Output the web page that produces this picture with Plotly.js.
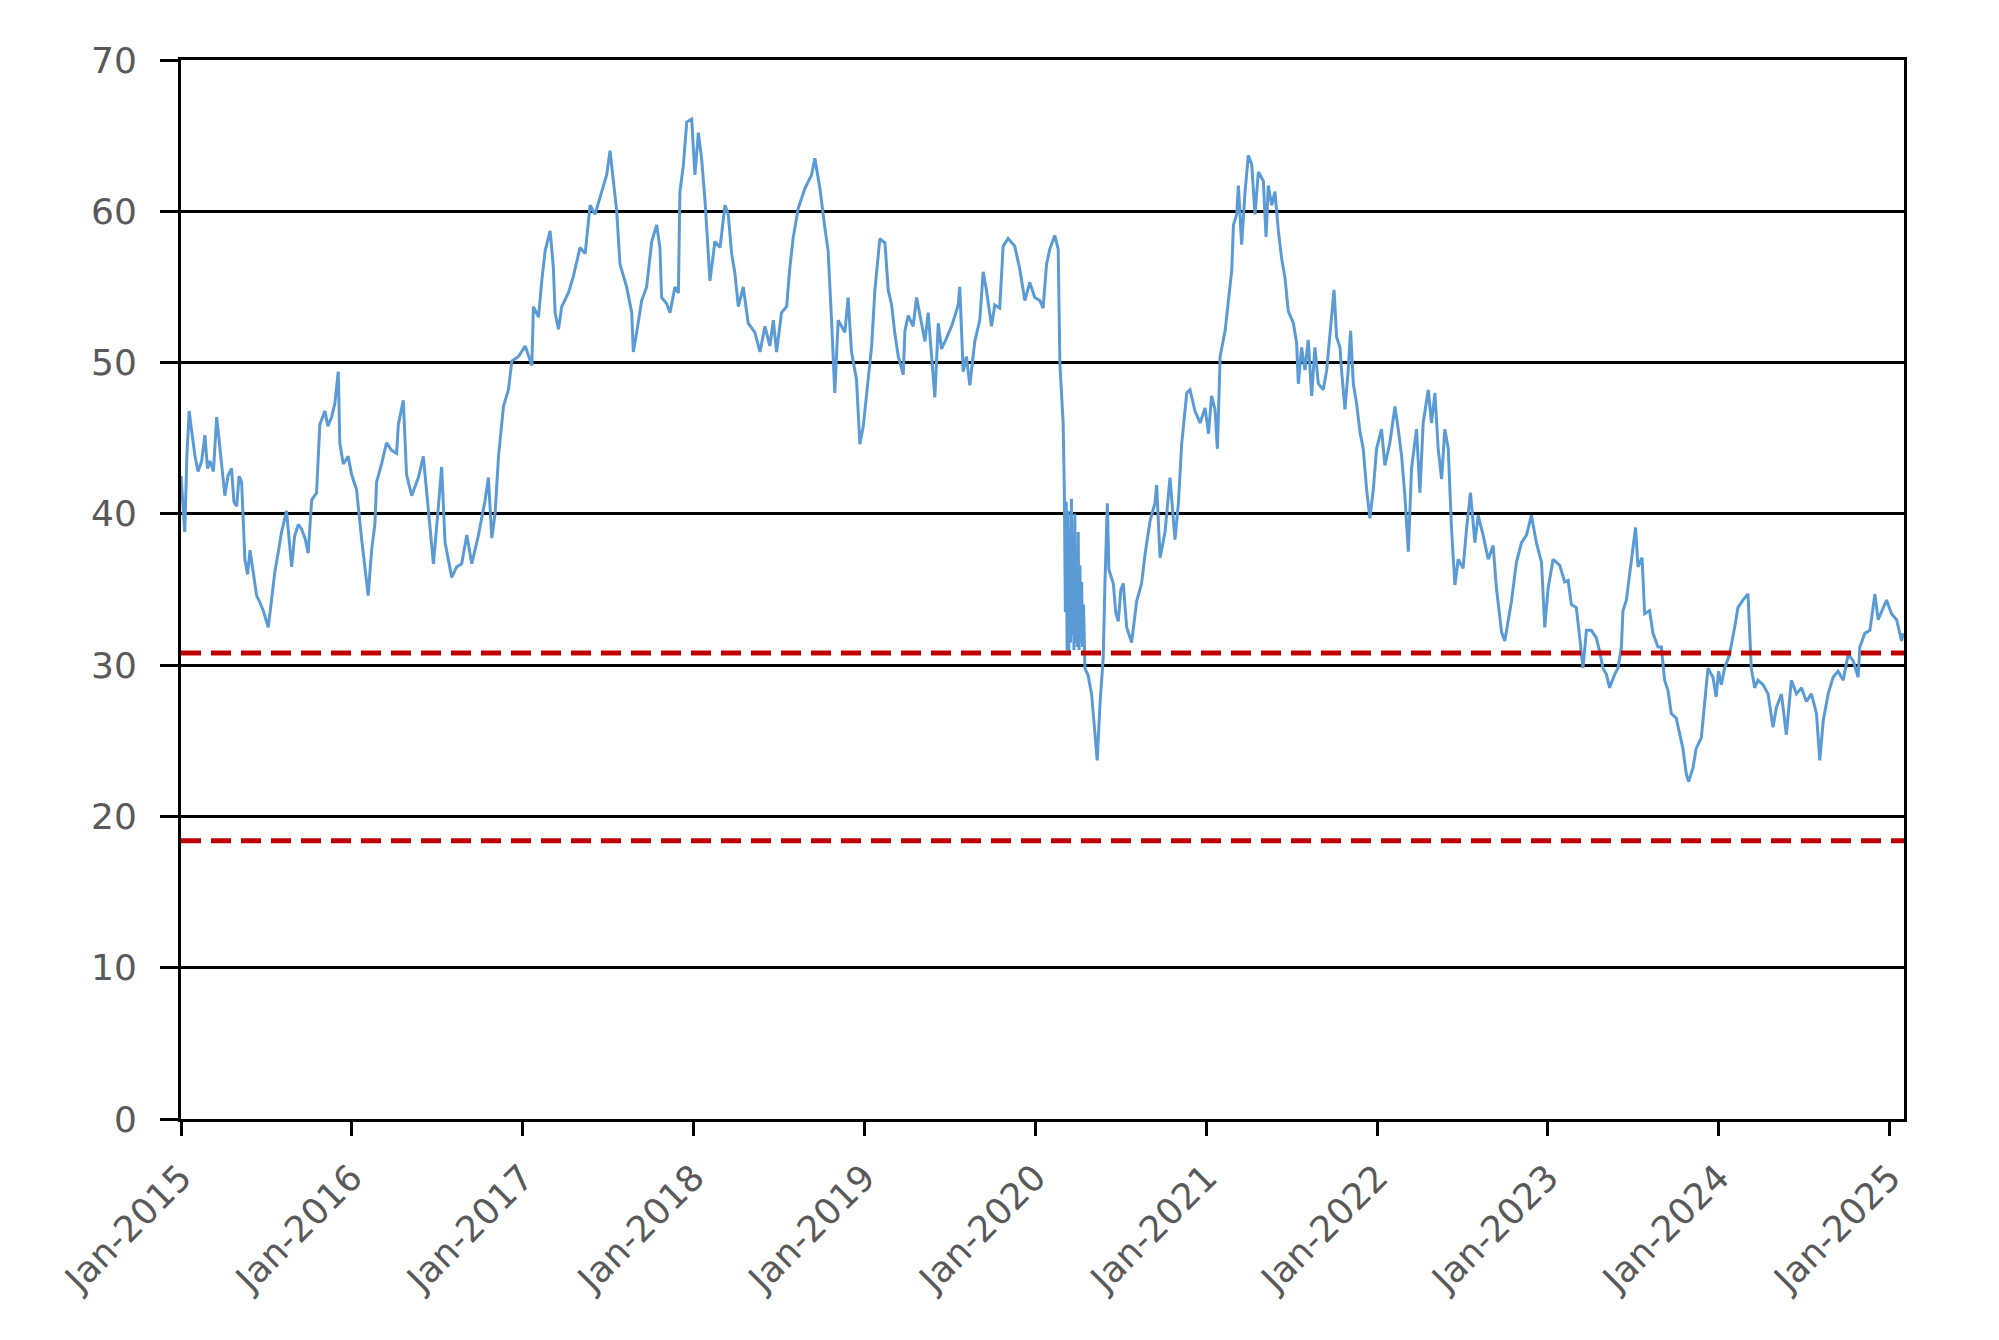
<!DOCTYPE html>
<html>
<head>
<meta charset="utf-8">
<script src="https://cdn.plot.ly/plotly-3.0.1.min.js"></script>
<style>
  html, body { margin: 0; padding: 0; background: #fff; }
  #chart { width: 1999px; height: 1340px; }
</style>
</head>
<body>
<div id="chart"></div>
<script>
// decimal years and values in two-year pieces
var t2015 = [2015.000, 2015.010, 2015.022, 2015.035, 2015.048, 2015.062, 2015.082, 2015.100, 2015.121, 2015.140,
  2015.155, 2015.170, 2015.190, 2015.209, 2015.238, 2015.257, 2015.275, 2015.296, 2015.310, 2015.326,
  2015.340, 2015.355, 2015.374, 2015.390, 2015.404, 2015.443, 2015.460, 2015.482, 2015.511, 2015.530,
  2015.550, 2015.570, 2015.589, 2015.618, 2015.635, 2015.648, 2015.665, 2015.687, 2015.705, 2015.726,
  2015.745, 2015.765, 2015.794, 2015.813, 2015.843, 2015.860, 2015.882, 2015.901, 2015.921, 2015.930,
  2015.950, 2015.979, 2015.999, 2016.028, 2016.057, 2016.075, 2016.096, 2016.116, 2016.135, 2016.145,
  2016.174, 2016.203, 2016.233, 2016.262, 2016.272, 2016.301, 2016.320, 2016.350, 2016.389, 2016.418,
  2016.447, 2016.477, 2016.506, 2016.525, 2016.545, 2016.584, 2016.613, 2016.642, 2016.672, 2016.701,
  2016.740, 2016.779, 2016.798, 2016.818, 2016.837, 2016.857, 2016.886, 2016.915, 2016.935, 2016.974];
var v2015 = [42.5, 41.0, 38.8, 44.0, 46.8, 45.5, 43.8, 42.8, 43.5, 45.2,
  43.0, 43.5, 42.8, 46.4, 43.5, 41.2, 42.5, 43.0, 40.8, 40.5,
  42.5, 42.1, 37.0, 36.0, 37.6, 34.6, 34.2, 33.6, 32.5, 34.5,
  36.2, 37.5, 38.8, 40.2, 38.0, 36.5, 38.5, 39.3, 39.0, 38.4,
  37.4, 40.9, 41.4, 45.9, 46.8, 45.8, 46.4, 47.3, 49.4, 44.7,
  43.3, 43.8, 42.6, 41.6, 38.4, 36.7, 34.6, 37.6, 39.3, 42.1,
  43.3, 44.7, 44.2, 44.0, 45.9, 47.5, 42.6, 41.2, 42.4, 43.8,
  40.5, 36.7, 40.5, 43.1, 38.1, 35.8, 36.5, 36.7, 38.6, 36.7,
  38.6, 40.9, 42.4, 38.4, 40.0, 43.8, 47.1, 48.2, 50.1, 50.4];

var t2017 = [2017.013, 2017.052, 2017.061, 2017.091, 2017.110, 2017.130, 2017.159, 2017.178, 2017.188, 2017.208,
  2017.227, 2017.266, 2017.295, 2017.334, 2017.364, 2017.393, 2017.422, 2017.461, 2017.490, 2017.510,
  2017.529, 2017.549, 2017.568, 2017.607, 2017.637, 2017.646, 2017.666, 2017.695, 2017.724, 2017.754,
  2017.783, 2017.802, 2017.812, 2017.841, 2017.861, 2017.890, 2017.910, 2017.919, 2017.939, 2017.959,
  2017.988, 2018.007, 2018.027, 2018.046, 2018.066, 2018.085, 2018.095, 2018.124, 2018.154, 2018.183,
  2018.202, 2018.222, 2018.241, 2018.261, 2018.290, 2018.319, 2018.358, 2018.388, 2018.417, 2018.446,
  2018.466, 2018.485, 2018.514, 2018.544, 2018.563, 2018.583, 2018.612, 2018.651, 2018.690, 2018.709,
  2018.739, 2018.768, 2018.787, 2018.807, 2018.826, 2018.846, 2018.885, 2018.904, 2018.924, 2018.953];
var v2017 = [51.1, 49.8, 53.7, 53.0, 55.4, 57.4, 58.7, 56.3, 53.3, 52.2,
  53.7, 54.6, 55.7, 57.6, 57.2, 60.4, 59.8, 61.3, 62.4, 64.0,
  62.2, 60.0, 56.5, 55.0, 53.3, 50.7, 52.0, 54.1, 55.0, 58.0,
  59.1, 57.6, 54.3, 53.9, 53.3, 55.0, 54.6, 61.3, 63.0, 65.9,
  66.1, 62.4, 65.2, 63.5, 60.7, 57.6, 55.4, 58.0, 57.6, 60.4,
  59.8, 57.2, 55.9, 53.7, 55.0, 52.6, 52.0, 50.7, 52.4, 51.1,
  52.8, 50.7, 53.3, 53.7, 56.3, 58.3, 60.2, 61.5, 62.4, 63.5,
  61.5, 58.9, 57.4, 52.8, 48.0, 52.8, 52.0, 54.3, 50.7, 48.9];

var t2019 = [2018.973, 2018.993, 2019.012, 2019.042, 2019.061, 2019.090, 2019.120, 2019.139, 2019.159, 2019.178,
  2019.198, 2019.227, 2019.237, 2019.256, 2019.285, 2019.305, 2019.334, 2019.354, 2019.373, 2019.393,
  2019.412, 2019.432, 2019.451, 2019.480, 2019.510, 2019.549, 2019.558, 2019.578, 2019.597, 2019.617,
  2019.646, 2019.675, 2019.695, 2019.714, 2019.744, 2019.763, 2019.792, 2019.812, 2019.841, 2019.880,
  2019.909, 2019.939, 2019.968, 2019.997, 2020.027, 2020.046, 2020.066, 2020.085, 2020.114, 2020.134,
  2020.144, 2020.163, 2020.170, 2020.176, 2020.181, 2020.186, 2020.191, 2020.196, 2020.201, 2020.206,
  2020.211, 2020.216, 2020.221, 2020.226, 2020.231, 2020.236, 2020.241, 2020.246, 2020.251, 2020.256,
  2020.261, 2020.266, 2020.271, 2020.276, 2020.282, 2020.290, 2020.309,
  2020.329, 2020.348, 2020.362, 2020.378, 2020.397, 2020.407, 2020.421, 2020.430, 2020.456, 2020.470,
  2020.485, 2020.500, 2020.514, 2020.534, 2020.563, 2020.592, 2020.621, 2020.641, 2020.670, 2020.699,
  2020.709, 2020.729, 2020.758, 2020.787, 2020.816, 2020.836, 2020.855, 2020.885, 2020.904, 2020.933,
  2020.963, 2020.992, 2021.012];
var v2019 = [44.6, 45.8, 47.7, 51.1, 54.8, 58.2, 57.9, 54.8, 53.8, 51.9,
  50.4, 49.2, 52.1, 53.1, 52.4, 54.3, 52.6, 51.4, 53.3, 50.4,
  47.7, 52.6, 50.9, 51.6, 52.4, 53.8, 55.0, 49.4, 50.4, 48.5,
  51.4, 52.8, 56.0, 54.8, 52.4, 53.8, 53.6, 57.7, 58.2, 57.7,
  56.2, 54.1, 55.3, 54.3, 54.1, 53.6, 56.5, 57.5, 58.4, 57.5,
  49.9, 46.0, 41.4, 33.5, 40.8, 31.0, 40.2, 30.8, 39.0, 31.5,
  41.0, 32.0, 38.5, 31.0, 40.0, 31.5, 37.5, 31.2, 38.8, 31.0,
  36.6, 31.5, 35.5, 31.2, 34.0, 29.8, 29.3,
  28.1, 25.2, 23.7, 27.4, 30.5, 35.4, 40.7, 36.3, 35.4, 33.5,
  32.9, 35.0, 35.4, 32.5, 31.5, 34.2, 35.4, 37.3, 39.5, 40.7,
  41.9, 37.1, 38.8, 42.4, 38.3, 40.7, 44.6, 48.0, 48.2, 46.8,
  46.0, 47.0, 45.3];

var t2021 = [2021.030, 2021.050, 2021.064, 2021.080, 2021.109, 2021.128, 2021.148, 2021.158, 2021.177, 2021.187,
  2021.206, 2021.226, 2021.245, 2021.265, 2021.284, 2021.304, 2021.333, 2021.349, 2021.362, 2021.382,
  2021.401, 2021.421, 2021.440, 2021.460, 2021.479, 2021.509, 2021.528, 2021.538, 2021.557, 2021.577,
  2021.596, 2021.616, 2021.635, 2021.655, 2021.684, 2021.704, 2021.723, 2021.747, 2021.762, 2021.782,
  2021.791, 2021.811, 2021.830, 2021.844, 2021.860, 2021.879, 2021.899, 2021.918, 2021.938, 2021.957,
  2021.977, 2021.996, 2022.025, 2022.045, 2022.074, 2022.104, 2022.123, 2022.143, 2022.162, 2022.182,
  2022.201, 2022.230, 2022.250, 2022.269, 2022.299, 2022.318, 2022.338, 2022.357, 2022.377, 2022.396,
  2022.416, 2022.435, 2022.455, 2022.474, 2022.503, 2022.523, 2022.546, 2022.572, 2022.591, 2022.620,
  2022.650, 2022.679, 2022.698, 2022.728, 2022.747, 2022.767, 2022.786, 2022.815, 2022.845, 2022.874,
  2022.903, 2022.932, 2022.962, 2022.981, 2023.001, 2023.030, 2023.069, 2023.098];
var v2021 = [47.8, 46.9, 44.3, 50.4, 52.1, 53.9, 56.1, 59.1, 59.8, 61.7,
  57.8, 61.3, 63.7, 63.1, 59.8, 62.6, 62.0, 58.3, 61.7, 60.4,
  61.3, 58.7, 56.9, 55.6, 53.4, 52.6, 51.3, 48.6, 51.0, 49.5,
  51.5, 47.8, 51.0, 48.6, 48.2, 49.5, 52.1, 54.8, 51.7, 51.0,
  49.5, 46.9, 49.5, 52.1, 48.6, 47.3, 45.4, 44.3, 41.6, 39.7,
  41.6, 44.3, 45.6, 43.2, 44.7, 47.1, 45.6, 43.8, 41.2, 37.5,
  43.0, 45.6, 41.4, 46.0, 48.2, 46.0, 48.0, 44.3, 42.3, 45.6,
  44.3, 39.0, 35.3, 37.0, 36.4, 39.0, 41.4, 38.1, 39.9, 38.6,
  37.0, 37.9, 35.1, 32.2, 31.6, 33.1, 34.2, 36.8, 38.1, 38.6,
  39.9, 38.1, 36.8, 32.5, 35.1, 37.0, 36.6, 35.5];

var t2023 = [2023.118, 2023.137, 2023.166, 2023.186, 2023.205, 2023.225, 2023.254, 2023.283, 2023.303, 2023.322,
  2023.342, 2023.361, 2023.391, 2023.410, 2023.430, 2023.439, 2023.459, 2023.478, 2023.498, 2023.513,
  2023.527, 2023.551, 2023.566, 2023.595, 2023.615, 2023.644, 2023.664, 2023.683, 2023.703, 2023.722,
  2023.751, 2023.771, 2023.790, 2023.810, 2023.824, 2023.849, 2023.868, 2023.898, 2023.917, 2023.937,
  2023.966, 2023.985, 2023.999, 2024.015, 2024.034, 2024.063, 2024.093, 2024.112, 2024.141, 2024.171,
  2024.190, 2024.210, 2024.229, 2024.259, 2024.288, 2024.317, 2024.337, 2024.366, 2024.395, 2024.424,
  2024.454, 2024.483, 2024.512, 2024.541, 2024.571, 2024.590, 2024.610, 2024.639, 2024.668, 2024.697,
  2024.727, 2024.756, 2024.785, 2024.814, 2024.824, 2024.853, 2024.883, 2024.912, 2024.931, 2024.961,
  2024.980, 2025.009, 2025.039, 2025.068, 2025.078];
var v2023 = [35.6, 34.0, 33.8, 31.8, 29.8, 32.3, 32.3, 31.8, 30.9, 29.8,
  29.4, 28.5, 29.4, 29.8, 31.2, 33.6, 34.3, 36.0, 37.8, 39.1,
  36.5, 37.1, 33.4, 33.6, 32.1, 31.2, 31.2, 29.0, 28.3, 26.8,
  26.5, 25.4, 24.5, 22.8, 22.3, 23.2, 24.5, 25.2, 27.6, 29.8,
  29.2, 27.9, 29.6, 28.7, 29.8, 30.7, 32.5, 33.8, 34.3, 34.7,
  29.8, 28.5, 29.0, 28.7, 28.1, 25.9, 27.2, 28.1, 25.4, 29.0,
  28.1, 28.5, 27.6, 28.1, 26.8, 23.7, 26.3, 28.1, 29.2, 29.6,
  29.0, 30.7, 30.3, 29.2, 31.2, 32.1, 32.3, 34.7, 33.0, 33.8,
  34.3, 33.4, 33.0, 31.6, 32.1];

// dashed reference levels
var levels = [30.8, 18.4];

// x axis ticks
var tickDates = ['2015-01-01', '2016-01-01', '2017-01-01', '2018-01-01', '2019-01-01', '2020-01-01',
  '2021-01-01', '2022-01-01', '2023-01-01', '2024-01-01', '2025-01-01'];
var tickLabels = ['Jan-2015', 'Jan-2016', 'Jan-2017', 'Jan-2018', 'Jan-2019', 'Jan-2020',
  'Jan-2021', 'Jan-2022', 'Jan-2023', 'Jan-2024', 'Jan-2025'];

// decimal year -> 'yyyy-mm-dd HH:MM:SS'
function toDate(y){
    var yr = Math.floor(y);
    var start = Date.UTC(yr, 0, 1), end = Date.UTC(yr + 1, 0, 1);
    var d = new Date(start + (y - yr) * (end - start));
    return d.toISOString().replace('T', ' ').slice(0, 19);
}

var years = [].concat(t2015, t2017, t2019, t2021, t2023);
var values = [].concat(v2015, v2017, v2019, v2021, v2023);

var trace1 = {
    x: years.map(toDate),
    y: values,
    type: 'scatter',
    mode: 'lines',
    line: {color: '#5B9BD5', width: 3},
    showlegend: false,
    hoverinfo: 'x+y'
};

var shapes = levels.map(function(lv){
    return {
        type: 'line', xref: 'paper', yref: 'y',
        x0: 0, x1: 1, y0: lv, y1: lv,
        line: {color: '#C00000', width: 5, dash: '20px,10px'},
        layer: 'above'
    };
});

var tickFont = {family: 'DejaVu Sans, Verdana, sans-serif', size: 36, color: '#595959'};

var layout = {
    width: 1999,
    height: 1340,
    margin: {l: 181, r: 95, t: 60, b: 221},
    paper_bgcolor: '#ffffff',
    plot_bgcolor: '#ffffff',
    showlegend: false,
    xaxis: {
        type: 'date',
        range: ['2015-01-01', '2025-01-31'],
        tickvals: tickDates,
        ticktext: tickLabels,
        tickangle: -45,
        ticks: 'outside',
        ticklen: 14,
        tickwidth: 3,
        tickcolor: '#000000',
        tickfont: tickFont,
        ticklabelstandoff: 6,
        showgrid: false,
        zeroline: false,
        showline: true,
        linecolor: '#000000',
        linewidth: 3,
        mirror: true
    },
    yaxis: {
        range: [0, 70],
        dtick: 10,
        tick0: 0,
        ticks: 'outside',
        ticklen: 18,
        tickwidth: 3,
        tickcolor: '#000000',
        tickfont: tickFont,
        ticklabelstandoff: 16,
        showgrid: true,
        gridcolor: '#000000',
        gridwidth: 3,
        zeroline: false,
        showline: true,
        linecolor: '#000000',
        linewidth: 3,
        mirror: true
    },
    shapes: shapes
};

var additional_param = {
    displayModeBar: false,
    displaylogo: false
};

Plotly.newPlot('chart', [trace1], layout, additional_param);
</script>
</body>
</html>
